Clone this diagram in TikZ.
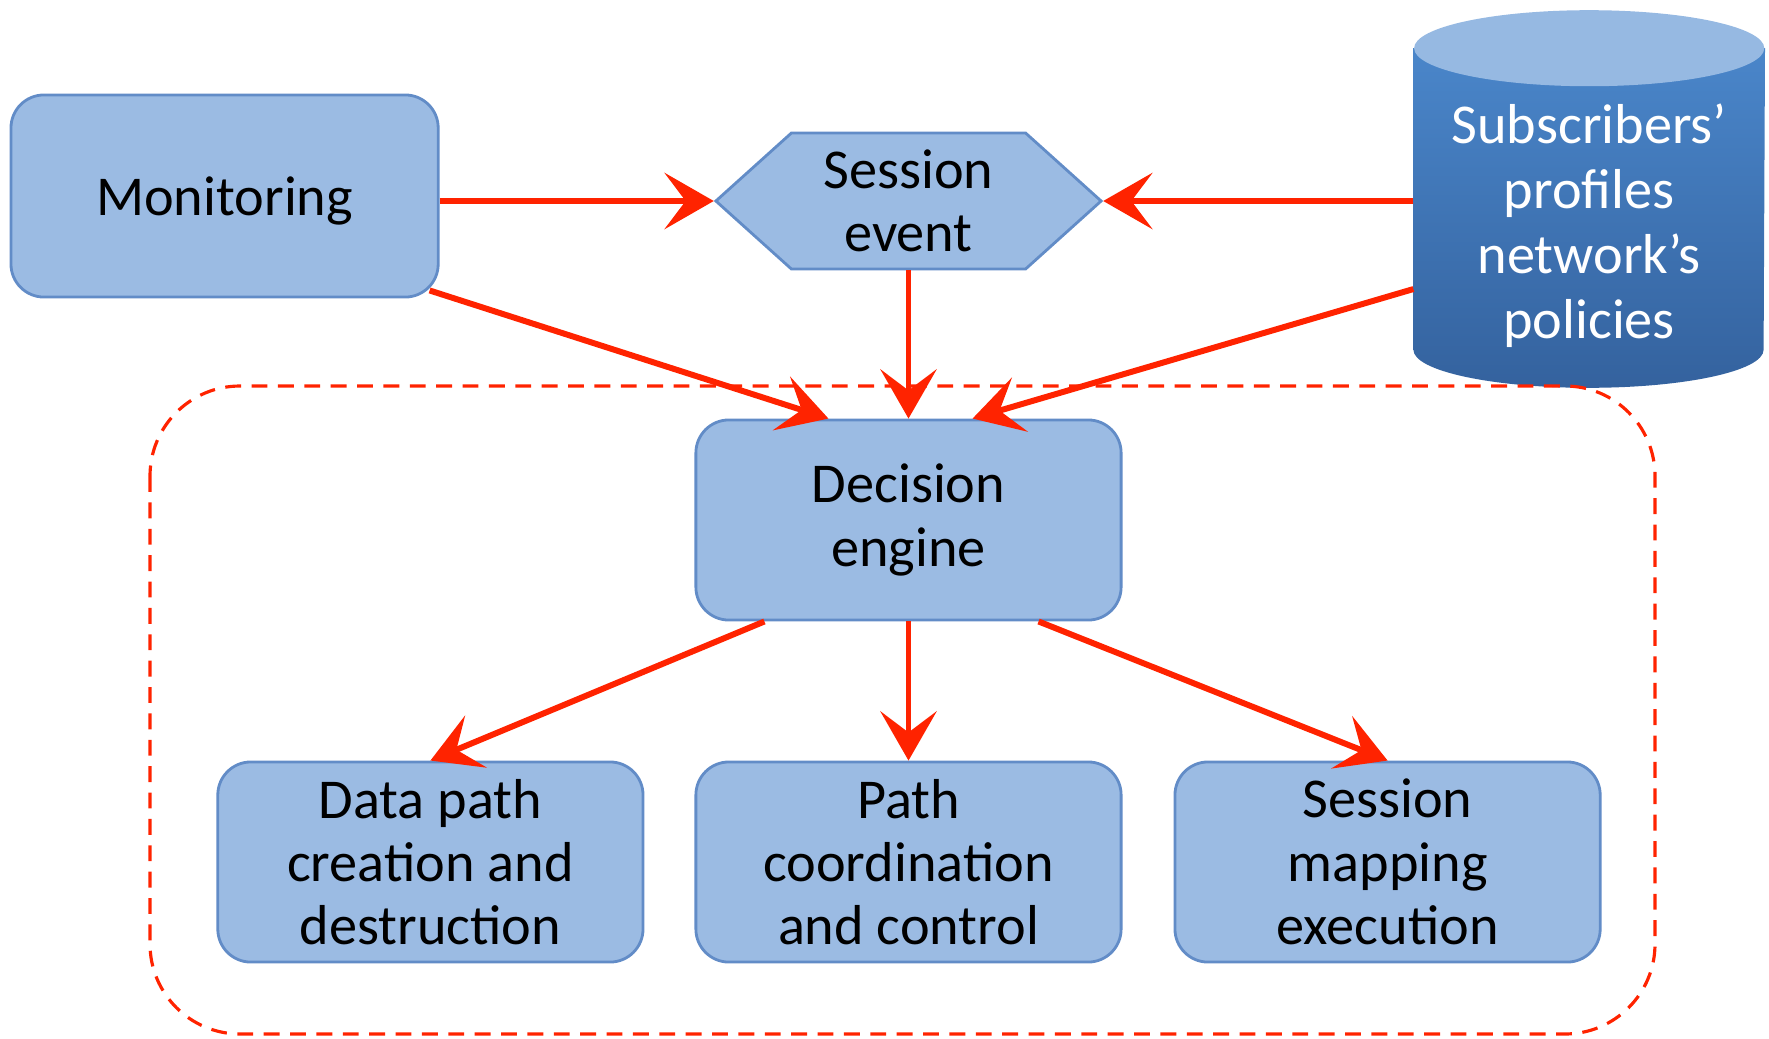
\documentclass[tikz,border=0pt]{standalone}
\usepackage{fontspec}
\setmainfont{Carlito}
\usepackage{tikz}
\usetikzlibrary{shapes.symbols, arrows.meta, positioning, backgrounds}
\definecolor{boxblue}{RGB}{155,187,227}
\definecolor{boxline}{RGB}{98,140,199}
\definecolor{arrowred}{RGB}{255,35,0}
\definecolor{dbtop}{RGB}{74,134,202}
\definecolor{dbbot}{RGB}{52,98,158}
\definecolor{dbcap}{RGB}{150,185,226}

\begin{document}
\begin{tikzpicture}[x=0.01cm, y=-0.01cm,
    font=\fontsize{16}{18}\selectfont,
    block/.style={rectangle, rounded corners=0.33cm, draw=boxline, line width=0.8pt, fill=boxblue, align=center, minimum width=4.25cm, minimum height=2cm, inner sep=1pt},
    event/.style={signal, signal to=east and west, signal pointer angle=84, draw=boxline, line width=0.8pt, fill=boxblue, align=center, minimum width=3.85cm, minimum height=1.36cm, inner sep=1pt},
    store/.style={rectangle, text=white, align=center, minimum width=3.5cm, minimum height=3.3cm, font=\fontsize{16}{18.5}\selectfont},
    frame/.style={draw=arrowred, line width=0.9pt, dash pattern=on 4.5pt off 3pt, rounded corners=0.9cm},
    arrow/.style={line width=1.7pt, draw=arrowred, -{Stealth[length=14pt, width=16pt, inset=6pt]}}]

    \useasboundingbox (0,0) rectangle (1769,1039);

    \draw[frame] (150,386) rectangle (1655,1034);

    \node[block] (dec) at (908.5,520) {Decision\\engine};
    \node[block, below=1.39cm of dec] (pcc) {Path\\coordination\\and control};
    \node[block, left=0.5cm of pcc] (dpc) {Data path\\creation and\\destruction};
    \node[block, right=0.51cm of pcc] (smx) {Session\\mapping\\execution};
    \node[event, above=1.48cm of dec] (sev) {Session\\event};
    \node[block, minimum width=4.27cm, minimum height=2.02cm, text depth=0pt, left=2.74cm of sev, yshift=0.05cm] (mon) {Monitoring};
    \node[store, right=3.1cm of sev, yshift=-0.25cm] (db) {Subscribers’\\profiles\\network’s\\policies};

    % cylinder behind the store text
    \begin{scope}[on background layer]
        \shade[top color=dbtop, bottom color=dbbot] ([yshift=0.12cm]db.north west) -- ([yshift=0.42cm]db.south west) arc[start angle=180, end angle=360, x radius=1.75cm, y radius=0.38cm] -- ([yshift=0.12cm]db.north east) -- cycle;
        \fill[dbcap] ([yshift=0.12cm]db.north) ellipse [x radius=1.75cm, y radius=0.38cm];
    \end{scope}

    \draw[arrow] (mon.east |- sev.west) -- (sev.west);
    \draw[arrow] (db.west |- sev.east) -- (sev.east);
    \draw[arrow] ([xshift=-0.1cm, yshift=0.08cm]mon.south east) -- ([xshift=-0.8cm]dec.north);
    \draw[arrow] (sev.south) -- (dec.north);
    \draw[arrow] ([yshift=-0.63cm]db.west) -- ([xshift=0.64cm]dec.north);
    \draw[arrow] ([xshift=-1.44cm]dec.south) -- (dpc.north);
    \draw[arrow] (dec.south) -- (pcc.north);
    \draw[arrow] ([xshift=1.3cm]dec.south) -- (smx.north);
\end{tikzpicture}
\end{document}
